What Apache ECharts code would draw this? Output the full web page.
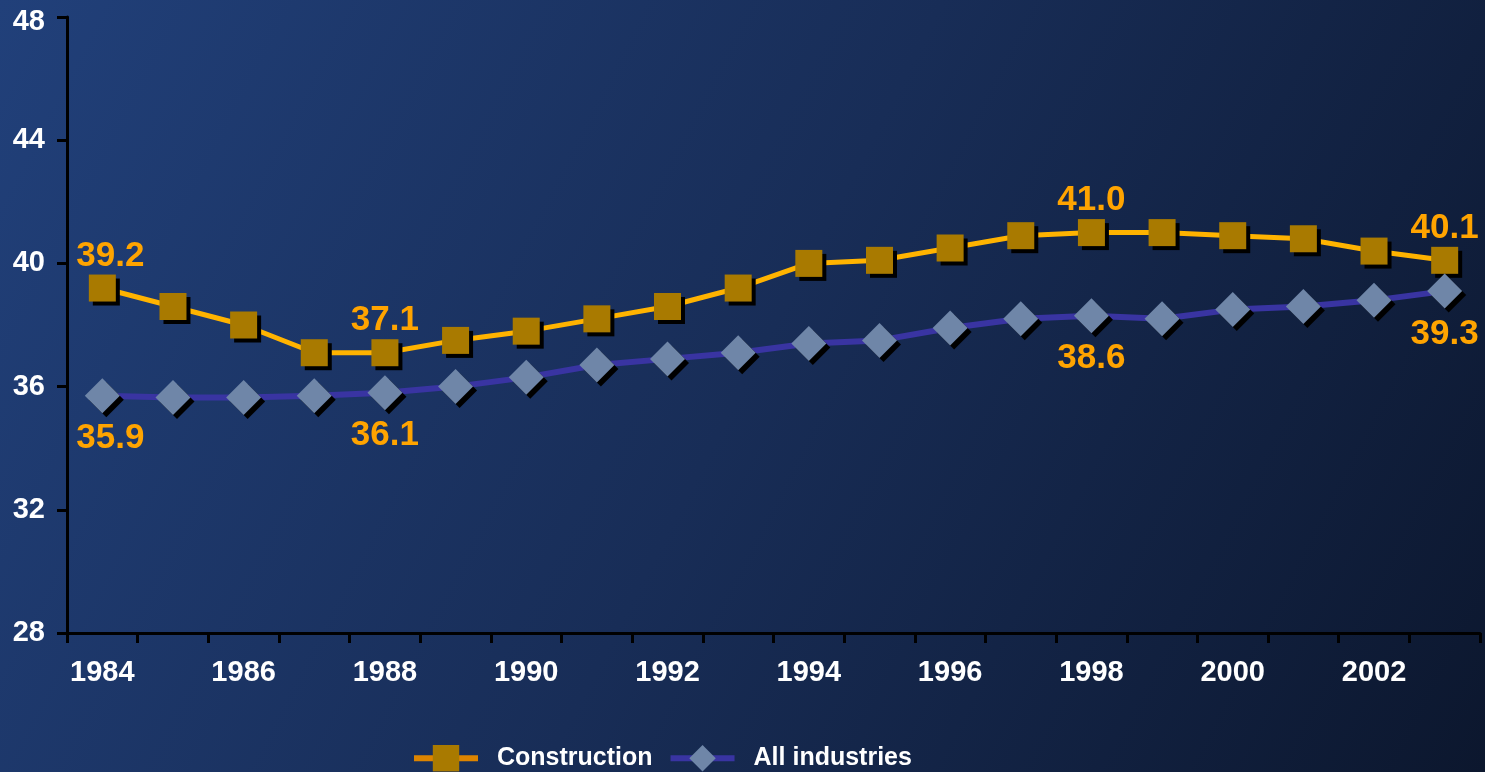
<!DOCTYPE html>
<html>
<head>
<meta charset="utf-8">
<script src="https://cdn.jsdelivr.net/npm/echarts@6/dist/echarts.min.js"></script>
<style>
  html, body { margin: 0; padding: 0; }
  #chart { width: 1485px; height: 772px; }
</style>
</head>
<body>
<div id="chart"></div>
<script>
// years on the x axis
var years = ['1984', '1985', '1986', '1987', '1988', '1989', '1990', '1991', '1992', '1993',
  '1994', '1995', '1996', '1997', '1998', '1999', '2000', '2001', '2002', '2003'];

// values
var construction = [39.2, 38.6, 38.0, 37.1, 37.1, 37.5, 37.8, 38.2, 38.6, 39.2,
  40.0, 40.1, 40.5, 40.9, 41.0, 41.0, 40.9, 40.8, 40.4, 40.1];
var allIndustries = [35.7, 35.65, 35.65, 35.7, 35.8, 36.0, 36.3, 36.7, 36.9, 37.1,
  37.4, 37.5, 37.9, 38.2, 38.3, 38.2, 38.5, 38.6, 38.8, 39.1];

// the value labels printed on the chart
var constructionLabels = { 0: '39.2', 4: '37.1', 14: '41.0', 19: '40.1' };
var allIndustriesLabels = { 0: '35.9', 4: '36.1', 14: '38.6', 19: '39.3' };

var yMin = 28, yMax = 48, yStep = 4;

function withLabels(values, labels) {
  return values.map(function (v, i) {
    if (labels[i] === undefined) return v;
    var lab = { show: true, formatter: labels[i] };
    // first year's labels sit a little right of the marker
    if (i === 0) lab.offset = [8, 0];
    return { value: v, label: lab };
  });
}

var labelFont = {
  color: '#ffa400',
  fontFamily: 'Liberation Sans, Arial, sans-serif',
  fontWeight: 'bold',
  fontSize: 35
};

var chart = echarts.init(document.getElementById('chart'));
chart.setOption({
  animation: false,
  backgroundColor: new echarts.graphic.LinearGradient(0, 0, 1, 1, [
    { offset: 0, color: '#21407a' },
    { offset: 0.5, color: '#182d57' },
    { offset: 1, color: '#0c172e' }
  ]),
  textStyle: {
    fontFamily: 'Liberation Sans, Arial, sans-serif'
  },
  grid: {
    left: 67,
    right: 5,
    top: 17,
    bottom: 139,
    outerBoundsMode: 'none'
  },
  legend: {
    left: 406,
    top: 740,
    itemWidth: 64,
    itemHeight: 33,
    itemGap: 15,
    textStyle: {
      color: '#fff',
      fontWeight: 'bold',
      fontSize: 25,
      padding: [0, 0, 0, 14]
    },
    data: [
      { name: 'Construction', lineStyle: { color: '#dd8400', width: 6 } },
      { name: 'All industries', lineStyle: { color: '#3934a2', width: 6 } }
    ]
  },
  xAxis: {
    type: 'category',
    data: years,
    boundaryGap: true,
    axisLine: { lineStyle: { color: '#000', width: 3 } },
    axisTick: { show: true, interval: 0, length: 10, lineStyle: { color: '#000', width: 3 } },
    axisLabel: {
      interval: 1,
      margin: 25,
      color: '#fff',
      fontWeight: 'bold',
      fontSize: 29
    },
    splitLine: { show: false }
  },
  yAxis: {
    type: 'value',
    min: yMin,
    max: yMax,
    interval: yStep,
    axisLine: { show: true, lineStyle: { color: '#000', width: 3 } },
    axisTick: { show: true, length: 10, lineStyle: { color: '#000', width: 3 } },
    axisLabel: {
      margin: 22,
      color: '#fff',
      fontWeight: 'bold',
      fontSize: 29,
      formatter: function (v) {
        return v === yMax ? '{top|' + v + '}' : String(v);
      },
      rich: {
        top: { color: '#fff', fontWeight: 'bold', fontSize: 29, padding: [10, 0, 0, 0] }
      }
    },
    splitLine: { show: false }
  },
  series: [
    {
      name: 'Construction',
      type: 'line',
      symbol: 'rect',
      symbolSize: 27,
      lineStyle: { color: '#ffb300', width: 5 },
      itemStyle: {
        color: '#a97a00',
        shadowColor: '#000',
        shadowBlur: 0,
        shadowOffsetX: 4,
        shadowOffsetY: 4
      },
      label: Object.assign({ position: 'top', distance: 1 }, labelFont),
      data: withLabels(construction, constructionLabels)
    },
    {
      name: 'All industries',
      type: 'line',
      symbol: 'diamond',
      symbolSize: 35,
      lineStyle: { color: '#3934a2', width: 6 },
      itemStyle: {
        color: '#6f86a8',
        shadowColor: '#000',
        shadowBlur: 0,
        shadowOffsetX: 4,
        shadowOffsetY: 4
      },
      label: Object.assign({ position: 'bottom', distance: 8 }, labelFont),
      data: withLabels(allIndustries, allIndustriesLabels)
    }
  ]
});
</script>
</body>
</html>
